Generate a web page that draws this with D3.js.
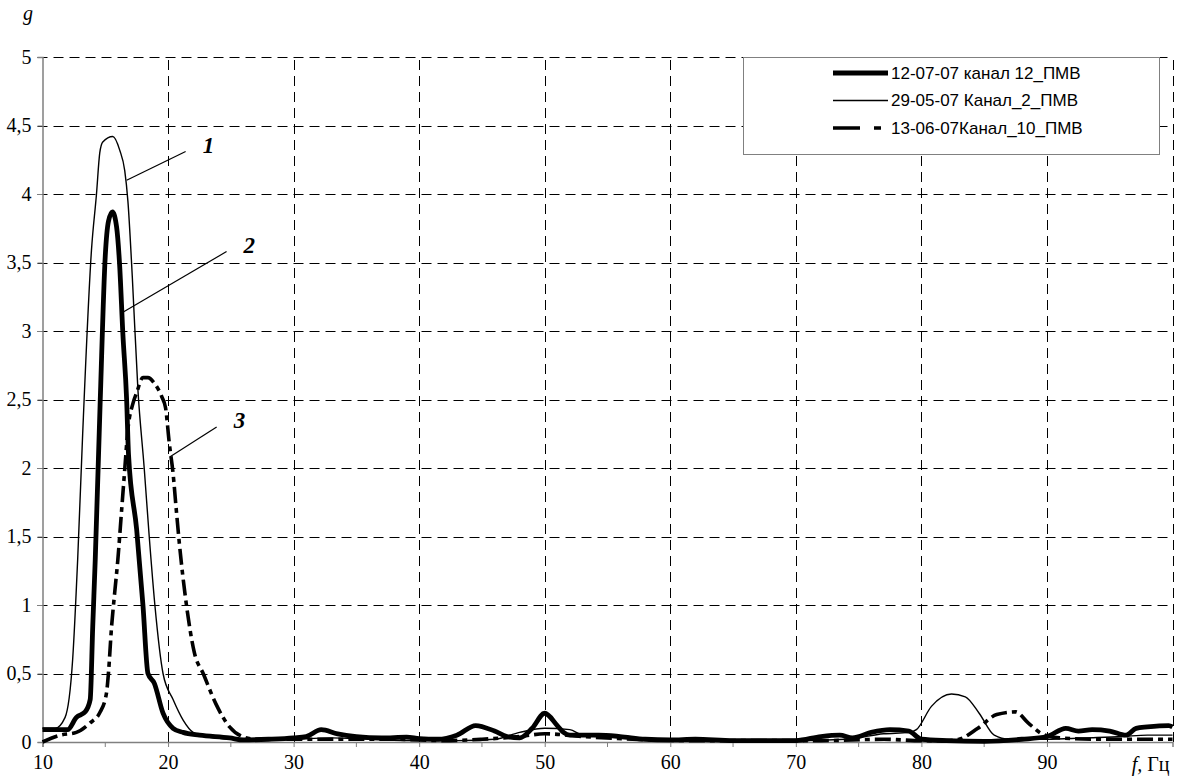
<!DOCTYPE html>
<html>
<head>
<meta charset="utf-8">
<script src="https://cdn.jsdelivr.net/npm/d3@7"></script>
<style>
  body { margin: 0; background: #fff; }
  text { font-family: "Liberation Serif", "Times New Roman", serif; fill: #000; }
  .legend text { font-family: "Liberation Sans", Arial, sans-serif; }
</style>
</head>
<body>
<script>
// series 1: 12-07-07 канал 12 (thick)
const f1207 = [10, 11, 12, 12.7, 13.4, 13.8, 14.0, 14.2, 14.6, 15.0, 15.25, 15.57, 15.9, 16.15, 16.4, 16.7, 16.85, 17.5, 18.0, 18.4, 18.9, 19.6, 20.4, 21.2, 22.5, 24.9, 26, 28, 30, 31, 32.2, 33.5, 35, 37, 39, 40, 41.5, 43, 44.5, 46, 47, 48, 49, 50, 51, 51.5, 52, 54.3, 56, 58, 60, 62, 65, 68, 70, 72, 73.5, 74.5, 76, 77.5, 79, 80, 82, 85, 88, 90, 91.5, 92.5, 93.6, 95, 96.3, 97.1, 98, 99.7, 100];
const g1207 = [0.09, 0.09, 0.09, 0.18, 0.22, 0.31, 0.84, 1.33, 2.5, 3.55, 3.8, 3.87, 3.76, 3.47, 2.98, 2.5, 2.1, 1.55, 1.0, 0.5, 0.43, 0.21, 0.1, 0.07, 0.05, 0.03, 0.015, 0.02, 0.03, 0.04, 0.09, 0.06, 0.04, 0.03, 0.035, 0.025, 0.02, 0.05, 0.12, 0.08, 0.04, 0.03, 0.1, 0.21, 0.12, 0.07, 0.05, 0.05, 0.04, 0.02, 0.015, 0.02, 0.01, 0.01, 0.01, 0.04, 0.05, 0.03, 0.07, 0.09, 0.08, 0.02, 0.01, 0.005, 0.02, 0.04, 0.1, 0.08, 0.09, 0.08, 0.05, 0.1, 0.11, 0.12, 0.11];

// series 2: 29-05-07 Канал 2 (thin)
const f2905 = [10, 11, 11.8, 12.4, 12.8, 13.2, 13.9, 14.3, 14.56, 14.8, 15.6, 16.15, 16.55, 16.8, 17.15, 17.6, 18.1, 18.5, 18.95, 19.6, 20.4, 21.2, 22.0, 23, 25, 27, 30, 33, 36, 40, 43, 46, 48, 50, 52, 53, 56, 60, 65, 70, 74, 77, 79, 79.6, 80.8, 82.4, 83.5, 84.6, 85.8, 87, 90, 93, 96, 98, 100];
const g2905 = [0.1, 0.1, 0.18, 0.6, 1.33, 2.25, 3.59, 4.0, 4.3, 4.38, 4.42, 4.32, 4.17, 3.95, 3.4, 2.57, 2.0, 1.5, 1.0, 0.5, 0.31, 0.16, 0.07, 0.04, 0.02, 0.01, 0.02, 0.03, 0.02, 0.01, 0.01, 0.02, 0.07, 0.1, 0.09, 0.05, 0.03, 0.01, 0.01, 0.01, 0.02, 0.06, 0.07, 0.09, 0.26, 0.35, 0.33, 0.21, 0.05, 0.02, 0.02, 0.03, 0.04, 0.05, 0.05];

// series 3: 13-06-07 Канал 10 (dash-dot)
const f1306 = [10, 11.4, 12.7, 13.8, 14.6, 15.1, 15.25, 15.5, 15.75, 16.0, 16.3, 16.55, 16.8, 17.2, 17.5, 18.0, 18.4, 18.9, 19.5, 19.8, 20.1, 20.4, 20.66, 20.9, 21.45, 22.1, 22.8, 23.8, 24.9, 25.9, 27, 29, 32, 35, 38, 42, 45, 48, 50, 53, 57, 62, 67, 72, 77, 80, 82, 83, 84.5, 86, 87.5, 88.5, 89.6, 91, 94, 97, 100];
const g1306 = [0.0, 0.05, 0.07, 0.14, 0.22, 0.36, 0.5, 0.84, 1.09, 1.33, 1.69, 1.99, 2.28, 2.47, 2.55, 2.66, 2.66, 2.62, 2.52, 2.44, 2.18, 1.96, 1.69, 1.45, 1.01, 0.65, 0.5, 0.28, 0.11, 0.04, 0.02, 0.02, 0.02, 0.02, 0.02, 0.01, 0.02, 0.04, 0.06, 0.04, 0.02, 0.01, 0.01, 0.01, 0.02, 0.01, 0.01, 0.02, 0.1, 0.2, 0.22, 0.14, 0.06, 0.03, 0.02, 0.02, 0.02];

const seriesNames = ["12-07-07 канал 12_ПМВ", "29-05-07 Канал_2_ПМВ", "13-06-07Канал_10_ПМВ"];
const xTicks = [10, 20, 30, 40, 50, 60, 70, 80, 90, 100];
const xMinor = [15, 25, 35, 45, 55, 65, 75, 85, 95];
const yTicks = [0, 0.5, 1, 1.5, 2, 2.5, 3, 3.5, 4, 4.5, 5];

// curve callouts: number, point on the curve, end of leader line
const calloutNums = ["1", "2", "3"];
const calloutFrom = [[16.7, 4.1], [16.47, 3.14], [20.13, 2.08]];
const calloutTo = [[21.4, 4.31], [24.66, 3.58], [23.87, 2.3]];

const width = 1177, height = 778;

const svg = d3.select("body").append("svg")
    .attr("width", width)
    .attr("height", height);

const x = d3.scaleLinear().domain([10, 100]).range([42.5, 1172.5]);
const y = d3.scaleLinear().domain([0, 5]).range([742, 57]);

const comma = d3.formatLocale({decimal: ",", thousands: " ", grouping: [3], currency: ["", ""]}).format("~g");

// dashed grid
svg.append("g")
    .selectAll("line")
    .data(xTicks.slice(1))
    .enter().append("line")
    .attr("x1", d => Math.round(x(d)) + 0.5)
    .attr("x2", d => Math.round(x(d)) + 0.5)
    .attr("y1", y(0))
    .attr("y2", y(5))
    .attr("stroke", "#000")
    .attr("stroke-dasharray", "10,6");

svg.append("g")
    .selectAll("line")
    .data(yTicks.slice(1))
    .enter().append("line")
    .attr("x1", x(10) - 5)
    .attr("x2", x(100))
    .attr("y1", d => Math.round(y(d)) + 0.5)
    .attr("y2", d => Math.round(y(d)) + 0.5)
    .attr("stroke", "#000")
    .attr("stroke-dasharray", "10,6");

// axes
const yAxis = svg.append("g")
    .attr("transform", "translate(" + x(10) + ",0)")
    .call(d3.axisLeft(y).tickValues(yTicks).tickSize(5).tickPadding(6).tickFormat(comma));
yAxis.select(".domain").attr("stroke", "#808080").attr("stroke-width", 1.5);
yAxis.selectAll(".tick line").attr("stroke", "#808080");
yAxis.selectAll("text").style("font-size", "20px");

const xAxis = svg.append("g")
    .attr("transform", "translate(0," + y(0) + ")")
    .call(d3.axisBottom(x).tickValues(xTicks.slice(0, -1)).tickSize(5).tickPadding(8).tickFormat(d3.format("d")));
xAxis.select(".domain").attr("stroke", "#808080").attr("stroke-width", 1.5);
xAxis.selectAll(".tick line").attr("stroke", "#808080");
xAxis.selectAll("text").style("font-size", "20px");

svg.append("g")
    .selectAll("line")
    .data(xMinor)
    .enter().append("line")
    .attr("x1", d => x(d))
    .attr("x2", d => x(d))
    .attr("y1", y(0))
    .attr("y2", y(0) + 5)
    .attr("stroke", "#808080");

// axis titles
svg.append("text")
    .attr("x", 23)
    .attr("y", 20)
    .style("font-size", "20px")
    .style("font-style", "italic")
    .text("g");

const fLabel = svg.append("text")
    .attr("x", x(100) - 3)
    .attr("y", 771)
    .attr("text-anchor", "end")
    .style("font-size", "20px");
fLabel.append("tspan").style("font-style", "italic").text("f,");
fLabel.append("tspan").text(" Гц");

// curves
const line = d3.line()
    .x(d => x(d[0]))
    .y(d => y(d[1]))
    .curve(d3.curveMonotoneX);

const series = [
    {f: f1207, g: g1207, w: 4.8, dash: null},
    {f: f2905, g: g2905, w: 1.4, dash: null},
    {f: f1306, g: g1306, w: 3.6, dash: "16,5,5,5"}
];

series.forEach(function(s) {
    const pts = s.f.map((v, i) => [v, s.g[i]]);
    svg.append("path")
        .datum(pts)
        .attr("fill", "none")
        .attr("stroke", "#000")
        .attr("stroke-width", s.w)
        .attr("stroke-linejoin", "round")
        .attr("stroke-dasharray", s.dash)
        .attr("d", line);
});

// callouts 1, 2, 3
calloutNums.forEach(function(n, i) {
    svg.append("line")
        .attr("x1", x(calloutFrom[i][0]))
        .attr("y1", y(calloutFrom[i][1]))
        .attr("x2", x(calloutTo[i][0]))
        .attr("y2", y(calloutTo[i][1]))
        .attr("stroke", "#000")
        .attr("stroke-width", 1.2);
    svg.append("text")
        .attr("x", x(calloutTo[i][0]) + 17)
        .attr("y", y(calloutTo[i][1]) + 1)
        .style("font-size", "23px")
        .style("font-weight", "bold")
        .style("font-style", "italic")
        .text(n);
});

// legend
const legend = svg.append("g").attr("class", "legend");
legend.append("rect")
    .attr("x", 743.5)
    .attr("y", 57.5)
    .attr("width", 416)
    .attr("height", 97)
    .attr("fill", "#fff")
    .attr("stroke", "#808080");

const legendDash = [null, null, "27,14,7"];
seriesNames.forEach(function(name, i) {
    const ly = 73 + i * 27.5;
    legend.append("line")
        .attr("x1", 833)
        .attr("x2", 888)
        .attr("y1", ly)
        .attr("y2", ly)
        .attr("stroke", "#000")
        .attr("stroke-width", series[i].w)
        .attr("stroke-dasharray", legendDash[i]);
    legend.append("text")
        .attr("x", 891)
        .attr("y", ly)
        .attr("dy", "0.35em")
        .style("font-size", "17px")
        .text(name);
});
</script>
</body>
</html>
